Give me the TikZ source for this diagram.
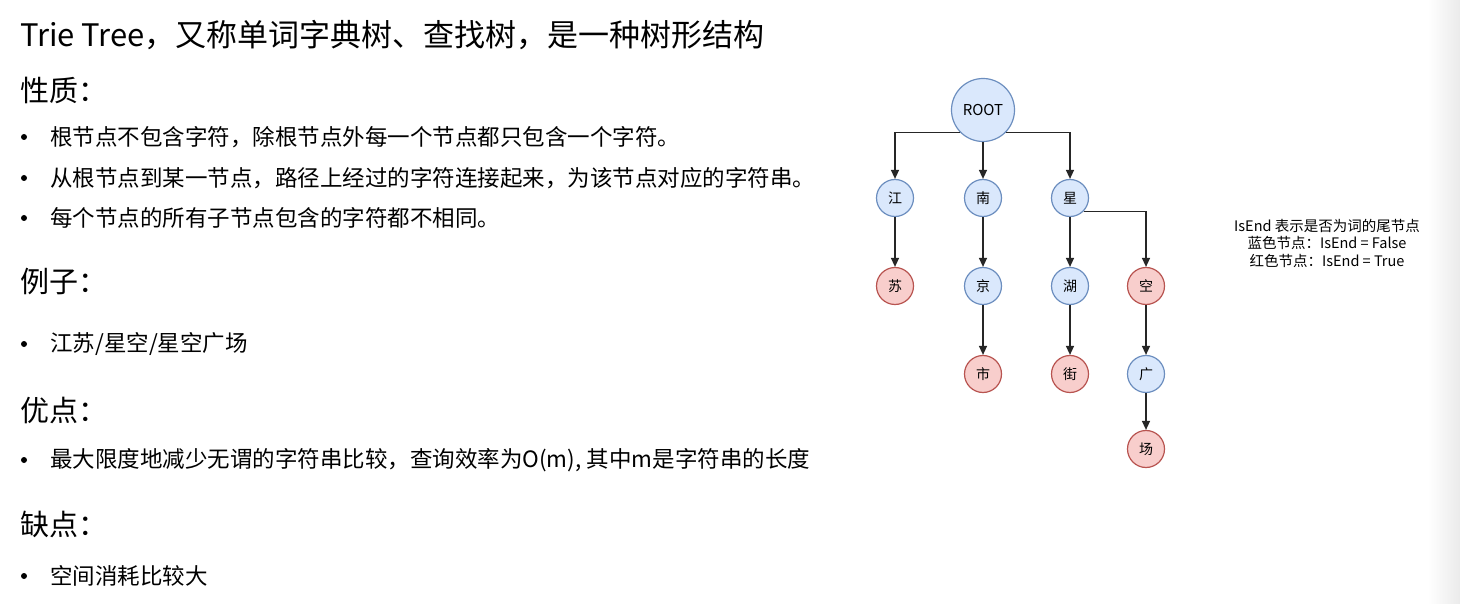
\documentclass[tikz,border=0pt]{standalone}
\usepackage{fontspec}
\setmainfont{Noto Sans CJK SC}
\usetikzlibrary{arrows.meta}
\definecolor{falseFill}{HTML}{DAE8FC}
\definecolor{falseLine}{HTML}{6C8EBF}
\definecolor{trueFill}{HTML}{F8CECC}
\definecolor{trueLine}{HTML}{B85450}
\begin{document}
\begin{tikzpicture}[x=1pt,y=-1pt,
  title/.style={anchor=west,inner sep=0pt,font=\fontsize{31}{36}\selectfont},
  heading/.style={anchor=west,inner sep=0pt,font=\fontsize{29}{34}\selectfont},
  item/.style={anchor=west,inner sep=0pt,font=\fontsize{22.5}{26}\selectfont},
  dot/.style={circle,fill=black,inner sep=0pt,minimum size=6pt},
  falsenode/.style={circle,draw=falseLine,fill=falseFill,line width=1.2pt,minimum size=37pt,inner sep=0pt,font=\fontsize{14}{16}\selectfont},
  truenode/.style={falsenode,draw=trueLine,fill=trueFill},
  edge/.style={draw=black!85,line width=1.3pt,-{Triangle[length=9pt,width=8pt]}}]
\useasboundingbox (0,0) rectangle (1460,604);
\fill[white] (0,0) rectangle (1460,604);
\shade[left color=white,right color=black!8] (1428,0) rectangle (1460,604);
% Drawing text
% Line 1: title
\node[title] (title) at (20,35) {Trie Tree，又称单词字典树、查找树，是一种树形结构};
% Line 2: properties
\node[heading] (props) at (20,90) {性质：};
\node[dot] (dot1) at (24,137) {};
\node[item] (prop1) at (50,137) {根节点不包含字符，除根节点外每一个节点都只包含一个字符。};
\node[dot] (dot2) at (24,178) {};
\node[item] (prop2) at (50,178) {从根节点到某一节点，路径上经过的字符连接起来，为该节点对应的字符串。};
\node[dot] (dot3) at (24,218) {};
\node[item] (prop3) at (50,218) {每个节点的所有子节点包含的字符都不相同。};
% Line 3: example
\node[heading] (examples) at (20,282) {例子：};
\node[dot] (dot4) at (24,344) {};
\node[item] (example1) at (50,344) {江苏/星空/星空广场};
% Line 4: pros
\node[heading] (pros) at (20,410) {优点：};
\node[dot] (dot5) at (24,460) {};
\node[item] (pro1) at (50,460) {最大限度地减少无谓的字符串比较，查询效率为O(m), 其中m是字符串的长度};
% Line 5: cons
\node[heading] (cons) at (20,524) {缺点：};
\node[dot] (dot6) at (24,576) {};
\node[item] (con1) at (50,576) {空间消耗比较大};
% Done with text; drawing tree
\node[falsenode,minimum size=63pt,font=\fontsize{15}{18}\selectfont] (root) at (983,110) {ROOT};
\node[falsenode] (jiang) at (895,198) {江};
\node[falsenode] (nan) at (983,198) {南};
\node[falsenode] (xing) at (1070,198) {星};
\node[truenode] (su) at (895,286) {苏};
\node[falsenode] (jing) at (983,286) {京};
\node[falsenode] (hu) at (1070,286) {湖};
\node[truenode] (kong) at (1146,286) {空};
\node[truenode] (shi) at (983,374) {市};
\node[truenode] (jie) at (1070,374) {街};
\node[falsenode] (guang) at (1146,374) {广};
\node[truenode] (chang) at (1146,449) {场};
% Drawing edges
\draw[edge] (root.south west) -| (jiang);
\draw[edge] (root) -- (nan);
\draw[edge] (root.south east) -| (xing);
\draw[edge] (jiang) -- (su);
\draw[edge] (nan) -- (jing);
\draw[edge] (xing) -- (hu);
\draw[edge] (xing.south east) -| (kong);
\draw[edge] (jing) -- (shi);
\draw[edge] (hu) -- (jie);
\draw[edge] (kong) -- (guang);
\draw[edge] (guang) -- (chang);
% Done with tree; drawing legend
\node[align=center,inner sep=0pt,font=\fontsize{14.5}{17.5}\selectfont] (legend) at (1327,243) {IsEnd 表示是否为词的尾节点\\蓝色节点：IsEnd = False\\红色节点：IsEnd = True};
\end{tikzpicture}
\end{document}
